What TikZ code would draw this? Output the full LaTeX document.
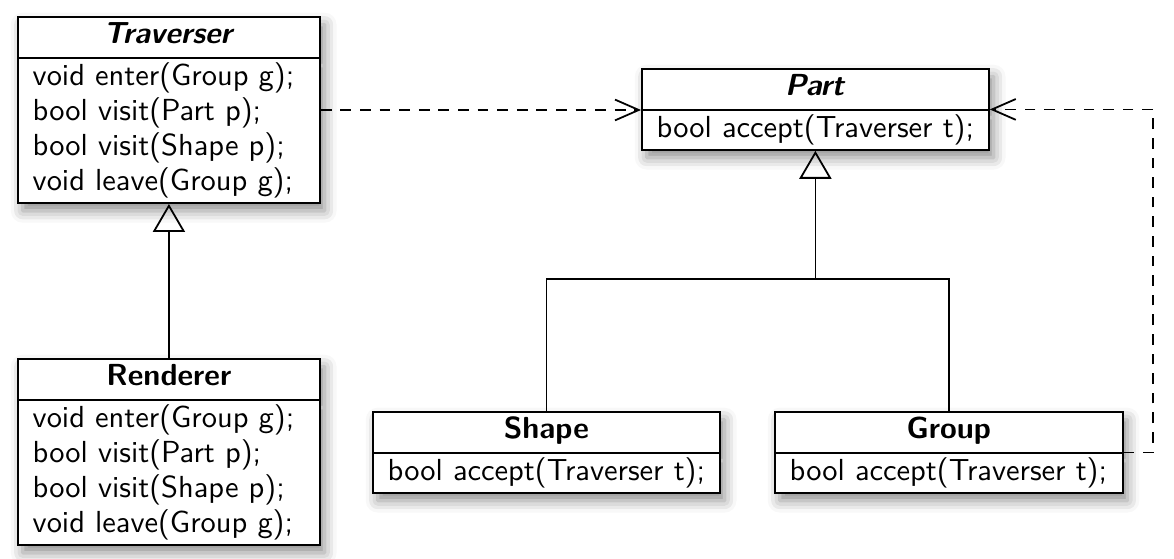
\documentclass[tikz,border=0pt]{standalone}
\usetikzlibrary{shapes.multipart,shadows.blur,arrows.meta,calc}
\begin{document}
\begin{tikzpicture}[x=0.3367pt,y=-0.3367pt,font=\sffamily\fontsize{10.25pt}{11.8pt}\selectfont,
  cls/.style={rectangle split, rectangle split parts=2, draw, semithick, fill=white,
    align=left, rectangle split part align={center,left}, inner xsep=5pt, inner ysep=0.6pt,
    blur shadow={shadow xshift=1.6pt, shadow yshift=-2.6pt, shadow blur radius=4pt, shadow opacity=45},
    anchor=north west},
  dep/.style={semithick, dash pattern=on 3.6pt off 3pt, -{Straight Barb[length=8pt,width=7pt]}},
  inh/.style={semithick, -{Triangle[open,length=9.4pt,width=10.8pt]}},
  link/.style={semithick}]
\useasboundingbox (0,0) rectangle (1174,559);
\newcommand{\hstrut}{\rule[-3.8pt]{0pt}{12pt}}
\newcommand{\bstrut}{\rule[-3.2pt]{0pt}{11.7pt}}
\node[cls, minimum width=101.7pt] (trav) at (17,16)
  {\hstrut\textbf{\textit{Traverser}}\nodepart{second}\bstrut void enter(Group g);\\\bstrut bool visit(Part p);\\\bstrut bool visit(Shape p);\\\bstrut void leave(Group g);};
\node[cls, minimum width=101.7pt] (rend) at (17,358)
  {\hstrut\textbf{Renderer}\nodepart{second}\bstrut void enter(Group g);\\\bstrut bool visit(Part p);\\\bstrut bool visit(Shape p);\\\bstrut void leave(Group g);};
\node[cls, minimum width=116.8pt] (part) at (641,68)
  {\hstrut\textbf{\textit{Part}}\nodepart{second}\bstrut bool accept(Traverser t);};
\node[cls, minimum width=116.8pt] (shape) at (372,411)
  {\hstrut\textbf{Shape}\nodepart{second}\bstrut bool accept(Traverser t);};
\node[cls, minimum width=117.1pt] (group) at (774,411)
  {\hstrut\textbf{Group}\nodepart{second}\bstrut bool accept(Traverser t);};
\coordinate (junc) at (part.south |- 0,279);
\coordinate (corner) at (1153,452);
\draw[inh] (rend.north) -- (trav.south);
\draw[inh] (shape.north) |- (junc) -- (part.south);
\draw[link] (group.north) |- (junc);
\draw[dep] (trav.east) -- (trav.east -| part.west);
\draw[dep] (group.east) -- (group.east -| corner) |- (part.east);
\end{tikzpicture}
\end{document}
